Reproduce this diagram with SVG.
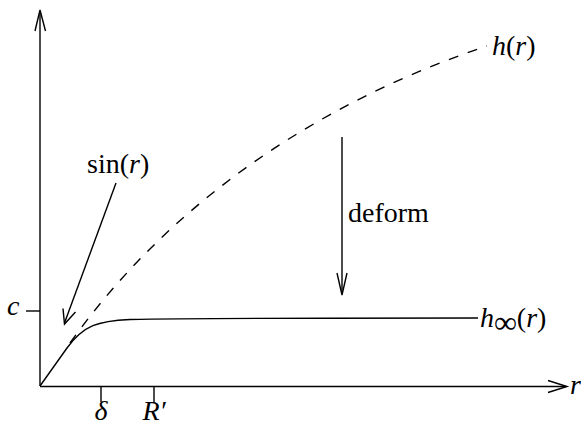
<svg xmlns="http://www.w3.org/2000/svg" width="581" height="427" viewBox="0 0 581 427">
<style>
.ln{fill:none;stroke:#000;stroke-width:1.4}
.ah{fill:none;stroke:#000;stroke-width:1.4;stroke-linejoin:miter}
.t{font-family:"Liberation Serif","Times New Roman",serif;font-size:28px;fill:#000}
.i{font-style:italic}
</style>
<rect width="581" height="427" fill="#fff"/>
<g id="axes">
<line class="ln" x1="40" y1="386" x2="40" y2="11"/>
<path class="ah" d="M35,31 L40,10 L45.5,31"/>
<line class="ln" x1="40" y1="386.5" x2="566" y2="386.5"/>
<path class="ah" d="M548,380.5 L567,386.5 L548,392.5"/>
<text class="t i" x="570" y="394">r</text>
<line class="ln" x1="26" y1="311" x2="40" y2="311"/>
<text class="t i" x="7" y="315">c</text>
<line class="ln" x1="101" y1="386" x2="101" y2="402"/>
<line class="ln" x1="154" y1="386" x2="154" y2="402"/>
<text class="t i" x="101" y="420" font-size="26" text-anchor="middle">δ</text>
<text class="t i" x="154" y="420" font-size="26" text-anchor="middle">R′</text>
</g>
<g id="connectors">
<path id="h" class="ln" stroke-dasharray="10,10" d="M70,343 C180,189 337,96 487,46"/>
<path id="hinf" class="ln" d="M40,386 L67,348 C84,325 98,321 130,319.5 C200,318 350,318 478,318"/>
<line class="ln" x1="116" y1="183" x2="64.5" y2="323"/>
<path class="ah" d="M63,308.5 L64.5,324 L75.5,312"/>
<line class="ln" x1="342" y1="137" x2="342" y2="293"/>
<path class="ah" d="M337,273 L342,295 L347,273"/>
</g>
<g id="labels">
<text class="t" x="87" y="173">sin(<tspan class="i">r</tspan>)</text>
<text class="t" x="348" y="222" font-size="26">deform</text>
<text class="t" x="492" y="55"><tspan class="i">h</tspan>(<tspan class="i">r</tspan>)</text>
<text class="t" x="480" y="327"><tspan class="i">h</tspan><tspan font-size="32" dy="6">∞</tspan><tspan dy="-6">(</tspan><tspan class="i">r</tspan>)</text>
</g>
</svg>
